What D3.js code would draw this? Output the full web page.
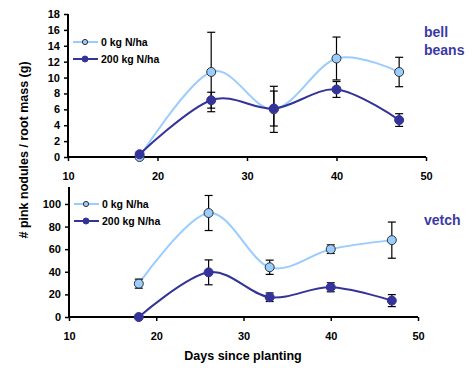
<!DOCTYPE html>
<html>
<head>
<meta charset="utf-8">
<script src="https://cdn.jsdelivr.net/npm/d3@7"></script>
<style>
  body { margin: 0; background: #fff; }
  svg { display: block; font-family: Arial, "Liberation Sans", sans-serif; font-weight: bold; }
</style>
</head>
<body>
<svg id="chart" width="472" height="368"></svg>
<script>
// days since planting
const days = [18, 26, 33, 40, 47];

// bell beans
const beans0 = [0, 10.7, 6.0, 12.4, 10.7];
const beans0Err = [0, 5.0, 2.9, 2.7, 1.85];
const beans200 = [0.35, 7.15, 6.1, 8.5, 4.65];
const beans200Err = [0, 1.0, 2.2, 1.0, 0.8];

// vetch
const vetch0 = [29.5, 92, 44, 60, 68];
const vetch0Err = [4, 15.5, 6.3, 3.8, 16];
const vetch200 = [0, 39.5, 17.5, 26.3, 14.5];
const vetch200Err = [0, 11, 3.8, 4, 5.3];

const xTicks = [10, 20, 30, 40, 50];
const beansTicks = [0, 2, 4, 6, 8, 10, 12, 14, 16, 18];
const vetchTicks = [0, 20, 40, 60, 80, 100];
const seriesNames = ['0 kg N/ha', '200 kg N/ha'];

const light = '#99ccff';
const dark = '#333399';

const svg = d3.select('#chart');

const panels = [
  { name: ['bell', 'beans'], nameY: 37, x0: 68, x1: 426, yTop: 14, yBot: 157, yMax: 18,
    ticks: beansTicks, legendY: 42, s0: beans0, e0: beans0Err, s1: beans200, e1: beans200Err },
  { name: ['vetch'], nameY: 225, x0: 69, x1: 418, yTop: 187, yBot: 317, yMax: 115,
    ticks: vetchTicks, legendY: 204, s0: vetch0, e0: vetch0Err, s1: vetch200, e1: vetch200Err },
];

panels.forEach(p => {
  const x = d3.scaleLinear().domain([10, 50]).range([p.x0, p.x1]);
  const y = d3.scaleLinear().domain([0, p.yMax]).range([p.yBot, p.yTop]);
  const g = svg.append('g');

  // axes
  const xAxis = g.append('g')
    .attr('transform', `translate(0,${p.yBot})`)
    .call(d3.axisBottom(x).tickValues(xTicks).tickSize(4).tickPadding(11));
  const yAxis = g.append('g')
    .attr('transform', `translate(${p.x0},0)`)
    .call(d3.axisLeft(y).tickValues(p.ticks).tickSize(4).tickPadding(4));
  [xAxis, yAxis].forEach(a => {
    a.select('.domain').attr('stroke', '#000').attr('stroke-width', 2);
    a.selectAll('.tick line').attr('stroke', '#000').attr('stroke-width', 1.5);
    a.selectAll('.tick text').attr('font-size', 11).attr('font-weight', 'bold')
      .attr('font-family', 'Arial, "Liberation Sans", sans-serif').attr('fill', '#000');
  });
  // y axis line: no outer tick
  yAxis.select('.domain').attr('d', `M0,${p.yBot}V${p.yTop}`);
  xAxis.select('.domain').attr('d', `M${p.x0},0H${p.x1}`);

  const series = [
    { vals: p.s0, err: p.e0, color: light, fill: light, stroke: '#333' },
    { vals: p.s1, err: p.e1, color: dark, fill: dark, stroke: dark },
  ];

  const line = d3.line()
    .x((d, i) => x(days[i]))
    .y(d => y(d))
    .curve(d3.curveCardinal.tension(0));

  series.forEach(s => {
    g.append('path')
      .datum(s.vals)
      .attr('d', line)
      .attr('fill', 'none')
      .attr('stroke', s.color)
      .attr('stroke-width', 2);
  });

  series.forEach(s => {
    const eb = g.append('g');
    s.vals.forEach((v, i) => {
      if (!s.err[i]) return;
      const cx = x(days[i]);
      const hi = y(v + s.err[i]);
      const lo = y(v - s.err[i]);
      eb.append('line').attr('x1', cx).attr('x2', cx).attr('y1', hi).attr('y2', lo)
        .attr('stroke', '#000').attr('stroke-width', 1.2);
      [hi, lo].forEach(yy => {
        eb.append('line').attr('x1', cx - 4).attr('x2', cx + 4).attr('y1', yy).attr('y2', yy)
          .attr('stroke', '#000').attr('stroke-width', 1.2);
      });
    });
  });

  series.forEach(s => {
    g.append('g').selectAll('circle')
      .data(s.vals)
      .enter()
      .append('circle')
      .attr('cx', (d, i) => x(days[i]))
      .attr('cy', d => y(d))
      .attr('r', 4.5)
      .attr('fill', s.fill)
      .attr('stroke', s.stroke)
      .attr('stroke-width', 1);
  });

  // legend
  series.forEach((s, i) => {
    const ly = p.legendY + i * 17;
    const lx = p.x0 + 5;
    g.append('line').attr('x1', lx).attr('x2', lx + 25).attr('y1', ly).attr('y2', ly)
      .attr('stroke', s.color).attr('stroke-width', 2);
    g.append('circle').attr('cx', lx + 12).attr('cy', ly).attr('r', i ? 3 : 2.6)
      .attr('fill', s.fill).attr('stroke', s.stroke).attr('stroke-width', 1);
    g.append('text').attr('x', lx + 28).attr('y', ly + 3.8)
      .attr('font-size', 10.5).attr('fill', '#000')
      .text(seriesNames[i]);
  });

  // panel name
  g.append('text')
    .attr('x', 424)
    .attr('y', p.nameY)
    .attr('font-size', 14)
    .attr('fill', '#3a3aa6')
    .selectAll('tspan')
    .data(p.name)
    .enter()
    .append('tspan')
    .attr('x', 424)
    .attr('dy', (d, i) => i ? 18 : 0)
    .text(d => d);
});

// axis titles
svg.append('text')
  .attr('transform', 'translate(28,150) rotate(-90)')
  .attr('text-anchor', 'middle')
  .attr('font-size', 12.5)
  .text('# pink nodules / root mass (g)');

svg.append('text')
  .attr('x', 243)
  .attr('y', 360)
  .attr('text-anchor', 'middle')
  .attr('font-size', 12.5)
  .text('Days since planting');
</script>
</body>
</html>
